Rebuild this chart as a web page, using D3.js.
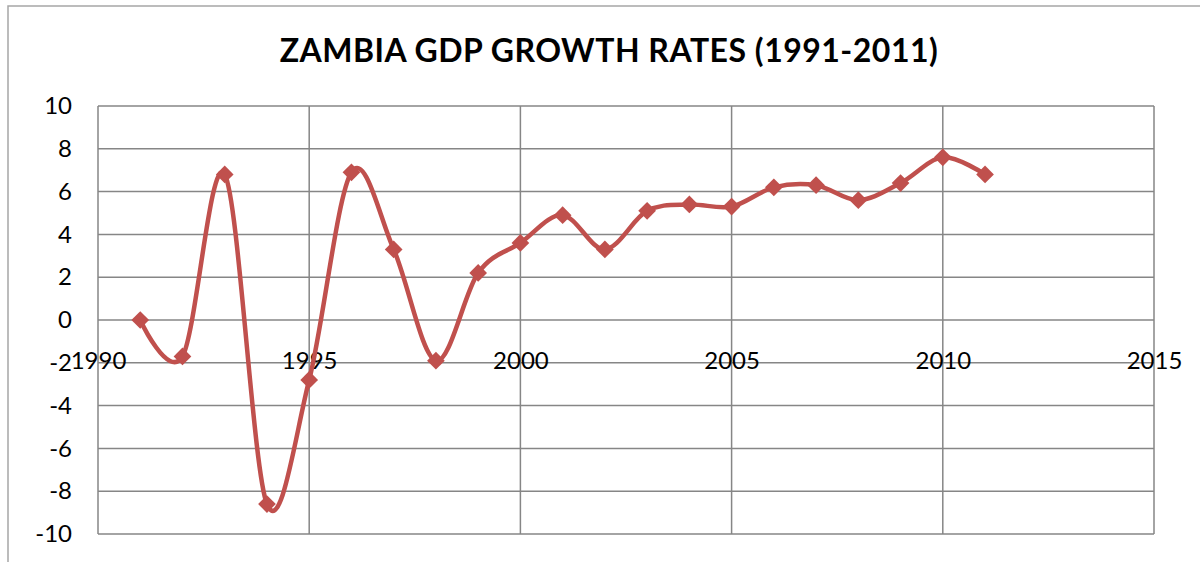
<!DOCTYPE html>
<html>
<head>
<meta charset="UTF-8">
<title>Zambia GDP Growth</title>
<script src="https://cdn.jsdelivr.net/npm/d3@7"></script>
<style>
	body { margin: 0; background: #ffffff; }
	text { font-family: Lato, "Open Sans", sans-serif; }
</style>
</head>
<body>
<div id="chart"></div>
<script>
// values
var years = [1991, 1992, 1993, 1994, 1995, 1996, 1997, 1998, 1999, 2000, 2001,
	2002, 2003, 2004, 2005, 2006, 2007, 2008, 2009, 2010, 2011];
var growth = [0, -1.7, 6.8, -8.6, -2.8, 6.9, 3.3, -1.9, 2.2, 3.6, 4.9,
	3.3, 5.1, 5.4, 5.3, 6.2, 6.3, 5.6, 6.4, 7.6, 6.8];
var xTicks = [1990, 1995, 2000, 2005, 2010, 2015];
var yTicks = [-10, -8, -6, -4, -2, 0, 2, 4, 6, 8, 10];

var width = 1200, height = 562;
var plotLeft = 98, plotRight = 1154, plotTop = 106, plotBottom = 534;
var lineColor = "#c0504d";
var gridColor = "#868686";

var data = years.map(function(y, i){ return {year: y, value: growth[i]}; });

var svg = d3.select("#chart").append("svg")
	.attr("width", width)
	.attr("height", height);

// outer chart border (Excel frame)
svg.append("path")
	.attr("d", "M8,562 L8,6 L1200,6")
	.attr("fill", "none")
	.attr("stroke", "#a6a6a6")
	.attr("stroke-width", 1.5);

var xScale = d3.scaleLinear().domain([1990, 2015]).range([plotLeft, plotRight]);
var yScale = d3.scaleLinear().domain([-10, 10]).range([plotBottom, plotTop]);

// horizontal gridlines
svg.append("g")
	.selectAll("line")
	.data(yTicks)
	.enter()
	.append("line")
		.attr("x1", plotLeft)
		.attr("x2", plotRight)
		.attr("y1", function(d){ return yScale(d); })
		.attr("y2", function(d){ return yScale(d); })
		.attr("stroke", gridColor)
		.attr("stroke-width", 1.5);

// vertical gridlines
svg.append("g")
	.selectAll("line")
	.data(xTicks)
	.enter()
	.append("line")
		.attr("x1", function(d){ return xScale(d); })
		.attr("x2", function(d){ return xScale(d); })
		.attr("y1", plotTop)
		.attr("y2", plotBottom)
		.attr("stroke", gridColor)
		.attr("stroke-width", 1.5);

// y axis labels - plain hyphen for negatives like Excel
var yAxis = d3.axisLeft(yScale)
	.tickValues(yTicks)
	.tickSize(0)
	.tickPadding(26)
	.tickFormat(function(d){ return String(d); });
var gy = svg.append("g")
	.attr("transform", "translate(" + plotLeft + ",0)")
	.call(yAxis);
gy.select(".domain").remove();
gy.selectAll("text")
	.attr("font-size", "24px")
	.attr("fill", "#000");

// x axis labels, crossing at y = 0
var xAxis = d3.axisBottom(xScale)
	.tickValues(xTicks)
	.tickSize(0)
	.tickPadding(32)
	.tickFormat(function(d){ return String(d); });
var gx = svg.append("g")
	.attr("transform", "translate(0," + yScale(0) + ")")
	.call(xAxis);
gx.select(".domain").remove();
gx.selectAll("text")
	.attr("font-size", "24px")
	.attr("fill", "#000");

// smoothed line like Excel
var line = d3.line()
	.x(function(d){ return xScale(d.year); })
	.y(function(d){ return yScale(d.value); })
	.curve(d3.curveCatmullRom.alpha(0));

svg.append("path")
	.datum(data)
	.attr("d", line)
	.attr("fill", "none")
	.attr("stroke", lineColor)
	.attr("stroke-width", 4.5)
	.attr("stroke-linejoin", "round");

// diamond markers
svg.append("g")
	.selectAll("path")
	.data(data)
	.enter()
	.append("path")
		.attr("d", d3.symbol().type(d3.symbolDiamond2).size(200))
		.attr("transform", function(d){
			return "translate(" + xScale(d.year) + "," + yScale(d.value) + ")";
		})
		.attr("fill", lineColor);

// title
svg.append("text")
	.attr("x", 609)
	.attr("y", 62)
	.attr("text-anchor", "middle")
	.attr("font-size", "32px")
	.attr("font-weight", "bold")
	.attr("letter-spacing", "0.5px")
	.attr("fill", "#000")
	.text("ZAMBIA GDP GROWTH RATES (1991-2011)");
</script>
</body>
</html>
